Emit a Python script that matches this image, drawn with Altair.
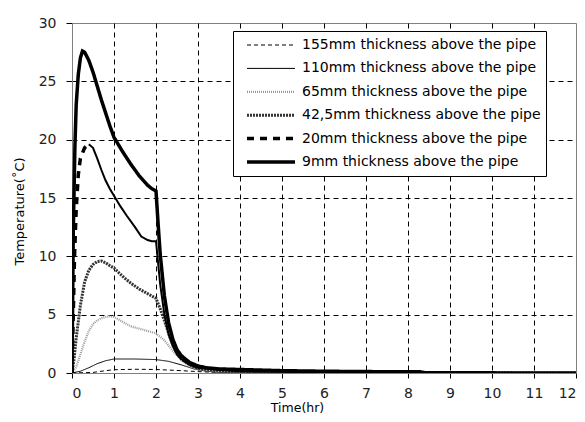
import altair as alt
import pandas as pd
import json

# ---- data ----
labels = [
    "155mm thickness above the pipe",
    "110mm thickness above the pipe",
    "65mm thickness above the pipe",
    "42,5mm thickness above the pipe",
    "20mm thickness above the pipe",
    "9mm thickness above the pipe",
]

t155 = [0, 0.5, 0.8, 1.0, 1.5, 2.0, 2.5, 3.0, 3.5, 4, 12]
v155 = [0, 0.05, 0.2, 0.28, 0.32, 0.3, 0.22, 0.12, 0.05, 0.02, 0]

t110 = [0, 0.2, 0.4, 0.6, 0.8, 1.0, 1.5, 2.0, 2.3, 2.6, 2.9, 3.2, 3.5, 4, 12]
v110 = [0, 0.15, 0.45, 0.8, 1.05, 1.2, 1.2, 1.15, 1.0, 0.7, 0.35, 0.15, 0.05, 0.02, 0]

t65 = [0, 0.1, 0.2, 0.3, 0.4, 0.5, 0.6, 0.7, 0.8, 0.9, 1.0, 1.2, 1.4, 1.6, 1.8,
       2.0, 2.2, 2.4, 2.6, 2.8, 3.0, 3.5, 4, 12]
v65 = [0, 0.5, 1.6, 2.7, 3.6, 4.2, 4.5, 4.7, 4.8, 4.85, 4.8, 4.4, 4.0, 3.8, 3.6,
       3.4, 2.8, 1.9, 1.1, 0.6, 0.3, 0.1, 0.05, 0]

t42 = [0, 0.05, 0.1, 0.2, 0.3, 0.4, 0.5, 0.6, 0.7, 0.8, 0.9, 1.0, 1.2, 1.4, 1.6,
       1.8, 2.0, 2.1, 2.2, 2.3, 2.4, 2.5, 2.6, 2.8, 3.0, 3.5, 4, 5, 12]
v42 = [0, 1.2, 3.0, 5.8, 7.8, 8.8, 9.3, 9.55, 9.6, 9.45, 9.2, 9.0, 8.3, 7.7, 7.2,
       6.8, 6.4, 5.5, 4.5, 3.4, 2.4, 1.7, 1.2, 0.7, 0.4, 0.2, 0.1, 0.05, 0]

t20 = [0, 0.03, 0.06, 0.1, 0.15, 0.2, 0.3, 0.4, 0.5, 0.6, 0.7, 0.8, 0.9, 1.0, 1.15,
       1.3, 1.5, 1.65, 1.8, 1.9, 2.0, 2.1, 2.2, 2.3, 2.4, 2.5, 2.6, 2.8, 3.0, 3.5,
       4, 5, 6, 8, 12]
v20 = [0, 5, 10, 14, 17, 18.4, 19.3, 19.6, 19.3, 18.4, 17.4, 16.5, 15.8, 15.2, 14.3,
       13.5, 12.5, 11.7, 11.4, 11.3, 11.3, 7.6, 5.0, 3.3, 2.3, 1.6, 1.2, 0.7, 0.45, 0.25,
       0.15, 0.1, 0.05, 0.02, 0]

t9 = [0, 0.03, 0.07, 0.1, 0.15, 0.2, 0.25, 0.3, 0.4, 0.5, 0.6, 0.7, 0.8, 0.9, 1.0,
      1.2, 1.4, 1.6, 1.8, 1.9, 2.0, 2.05, 2.1, 2.2, 2.3, 2.4, 2.5, 2.6, 2.8, 3.0,
      3.2, 3.5, 4, 5, 6, 7, 8.3, 8.4, 12]
v9 = [0, 12, 19.5, 23.0, 25.6, 27.0, 27.6, 27.5, 26.8, 25.8, 24.6, 23.4, 22.3, 21.2, 20.2,
      19.0, 17.9, 16.9, 16.1, 15.8, 15.6, 12.8, 10.2, 6.6, 4.3, 2.9, 2.0, 1.5, 0.9, 0.6,
      0.45, 0.35, 0.3, 0.2, 0.15, 0.12, 0.1, 0.02, 0]

x_ticks = list(range(0, 13))
y_ticks = [0, 5, 10, 15, 20, 25, 30]

series_t = [t155, t110, t65, t42, t20, t9]
series_v = [v155, v110, v65, v42, v20, v9]

colors = ["black", "black", "#999999", "#333333", "black", "black"]
dashes = [[4, 3], [1, 0], [1, 1], [2, 1], [7, 6], [1, 0]]
widths = [1, 1, 2.2, 3, 3.5, 3.5]

rows = []
for k, (lab, ts, vs) in enumerate(zip(labels, series_t, series_v)):
    for t, v in zip(ts, vs):
        rows.append({"series": lab, "w": widths[k], "t": t, "v": v})
df = pd.DataFrame(rows)

# 20mm curve: dashed on the steep rise, drawn as a thinner continuous line afterwards
lab20 = labels[4]
main_df = df[(df.series != lab20) | (df.t <= 0.4)]
tail_df = df[(df.series == lab20) & (df.t >= 0.4)]

FONT = "DejaVu Sans"

xscale = alt.Scale(domain=[0, 12], nice=False, zero=False)
yscale = alt.Scale(domain=[0, 30], nice=False)

x_axis = alt.Axis(
    values=x_ticks, format="d", title="Time(hr)",
    grid=True, gridColor="black", gridDash=[5, 4], gridWidth=1,
    gridOpacity={"condition": {"test": "datum.value === 0 || datum.value === 12", "value": 0}, "value": 1},
    domainColor="#808080", tickColor="black", tickSize=5,
    labelFont=FONT, labelFontSize=14, labelColor="#222222", labelPadding=8,
    titleFont=FONT, titleFontSize=12.5, titleFontWeight="normal", titleColor="black",
    titleX=225, titleY=34.5, titleBaseline="middle", titleAlign="center",
)
y_axis = alt.Axis(
    values=y_ticks, format="d", title="Temperature(˚C)",
    grid=True, gridColor="black", gridDash=[5, 4], gridWidth=1,
    gridOpacity={"condition": {"test": "datum.value === 0 || datum.value === 30", "value": 0}, "value": 1},
    domainColor="#808080", tickColor="black", tickSize=6,
    labelFont=FONT, labelFontSize=14, labelColor="#222222", labelPadding=10,
    titleFont=FONT, titleFontSize=13, titleFontWeight="normal", titleColor="black",
    titleX=-53, titleY=188, titleAngle=270, titleBaseline="middle", titleAlign="center",
)

W = json.dumps(widths)
L = json.dumps(labels)
width_expr = "((indexof(%s, datum.value) >= 0) ? %s[indexof(%s, datum.value)] : 3.5)" % (L, W, L)

legend = alt.Legend(
    title=None, orient="none", legendX=161, legendY=8,
    fillColor="white", strokeColor="black", padding=5, cornerRadius=0,
    symbolType="stroke", symbolSize=2304, symbolOffset=7,
    symbolStrokeWidth=alt.ExprRef(width_expr),
    clipHeight=18, rowPadding=5.4, labelOffset=5, labelLimit=400,
    labelFont=FONT, labelFontSize=14, labelColor="black",
)

main = alt.Chart(main_df).mark_line(clip=True).encode(
    x=alt.X("t:Q", scale=xscale, axis=x_axis),
    y=alt.Y("v:Q", scale=yscale, axis=y_axis),
    color=alt.Color("series:N", sort=labels, scale=alt.Scale(domain=labels, range=colors), legend=legend),
    strokeDash=alt.StrokeDash("series:N", sort=labels, scale=alt.Scale(domain=labels, range=dashes), legend=legend),
    strokeWidth=alt.StrokeWidth("w:Q", scale=None, legend=None),
    order=alt.Order("t:Q"),
)

tail = alt.Chart(tail_df).mark_line(color="black", strokeWidth=2, clip=True).encode(
    x=alt.X("t:Q", scale=xscale),
    y=alt.Y("v:Q", scale=yscale),
)

chart = alt.layer(main, tail).properties(
    width=504, height=350,
    autosize=alt.AutoSizeParams(type="none"),
    padding={"left": 64, "top": 15, "right": 1, "bottom": 41},
    background="white",
).configure_view(stroke="#808080", strokeWidth=1)

chart.save("out.html", embed_options={"renderer": "svg", "actions": False})
